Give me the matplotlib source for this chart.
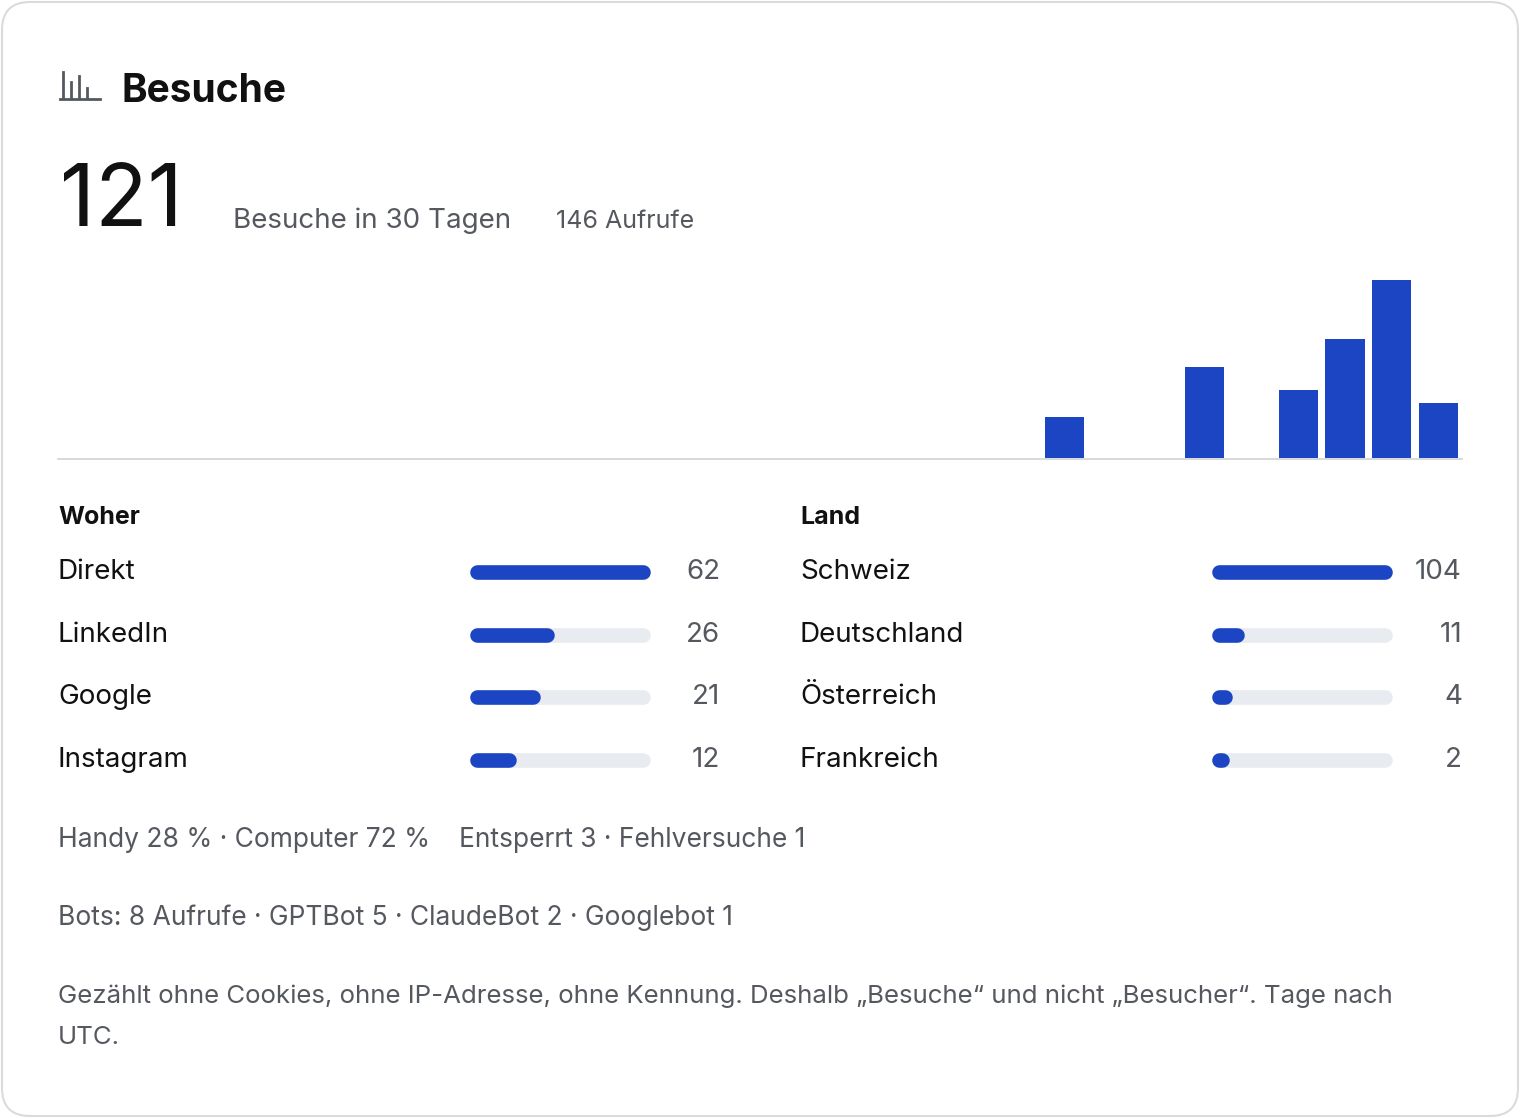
import matplotlib.pyplot as plt
from matplotlib.patches import FancyBboxPatch

plt.rcParams['font.family'] = ['Inter', 'DejaVu Sans']

W, H = 1520, 1118
day_index = list(range(30))
day_visits = [0]*21 + [9, 0, 0, 20, 0, 15, 26, 39, 12]

source_names = ['Direkt', 'LinkedIn', 'Google', 'Instagram']
source_counts = [62, 26, 21, 12]
country_names = ['Schweiz', 'Deutschland', 'Österreich', 'Frankreich']
country_counts = [104, 11, 4, 2]

BLUE = '#1c45c4'
TRACK = '#e8ebef'
GREY = '#55595f'

fig = plt.figure(figsize=(W/100, H/100), dpi=100)
bg = fig.add_axes([0, 0, 1, 1])
bg.set_xlim(0, W)
bg.set_ylim(H, 0)
bg.axis('off')
bg.add_patch(FancyBboxPatch((2, 2), W-4, H-4, boxstyle='round,pad=0,rounding_size=28',
                            fc='white', ec='#d9dbde', lw=1.5))

# title with icon
for x0, h in [(63, 26), (71, 16), (79, 22), (87, 10)]:
    bg.plot([x0, x0], [98, 98-h], color=GREY, lw=2)
bg.plot([60, 100], [99, 99], color=GREY, lw=2)
bg.text(122, 92, 'Besuche', fontsize=28, weight='bold', va='center', color='#111')
bg.text(60, 203, '121', fontsize=62, va='center', color='#111')
bg.text(233, 221, 'Besuche in 30 Tagen', fontsize=20, va='center', color=GREY)
bg.text(556, 221, '146 Aufrufe', fontsize=18, va='center', color=GREY)

# daily bars
ax = fig.add_axes([58/W, 1-458/H, 1404/W, 190/H])
ax.bar(day_index, day_visits, width=0.84, color=BLUE)
ax.set_xlim(-0.5, 29.5)
ax.set_ylim(0, 39*190/178)
ax.axis('off')
bg.plot([58, 1462], [459, 459], color='#d0d3d7', lw=1.2)

def block(x_label, x_bar, x_num, title, names, counts):
    bg.text(x_label, 517, title, fontsize=18, weight='bold', va='center', color='#111')
    mx = max(counts)
    for i, (n, c) in enumerate(zip(names, counts)):
        y = 572 + i*62.7
        bg.text(x_label, y, n, fontsize=20, va='center', color='#111')
        bg.plot([x_bar+7, x_bar+173], [y, y], color=TRACK, lw=10.5, solid_capstyle='round')
        bg.plot([x_bar+7, x_bar+7 + max(166*c/mx, 0.5)], [y, y], color=BLUE, lw=10.5,
                solid_capstyle='round')
        bg.text(x_num, y, str(c), fontsize=20, va='center', ha='right', color=GREY)

block(58, 470, 720, 'Woher', source_names, source_counts)
block(800, 1212, 1462, 'Land', country_names, country_counts)

bg.text(58, 840, 'Handy 28 % · Computer 72 %', fontsize=19, va='center', color=GREY)
bg.text(459, 840, 'Entsperrt 3 · Fehlversuche 1', fontsize=19, va='center', color=GREY)
bg.text(58, 918, 'Bots: 8 Aufrufe · GPTBot 5 · ClaudeBot 2 · Googlebot 1', fontsize=19,
        va='center', color=GREY)
bg.text(58, 996, 'Gezählt ohne Cookies, ohne IP-Adresse, ohne Kennung. Deshalb „Besuche“ und nicht „Besucher“. Tage nach',
        fontsize=18.6, va='center', color=GREY)
bg.text(58, 1038, 'UTC.', fontsize=18.6, va='center', color=GREY)

fig.savefig('out.png', dpi=100)
